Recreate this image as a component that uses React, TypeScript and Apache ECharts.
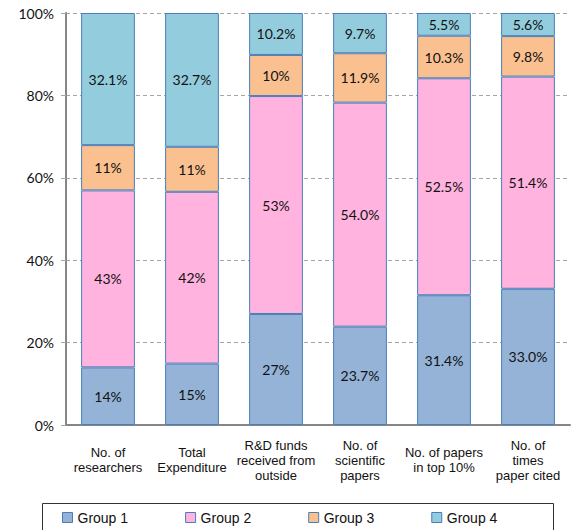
import React, { useEffect, useRef } from "react";
import * as echarts from "echarts";

const categories = [
  "No. of\nresearchers",
  "Total\nExpenditure",
  "R&D funds\nreceived from\noutside",
  "No. of\nscientific\npapers",
  "No. of papers\nin top 10%",
  "No. of\ntimes\npaper cited",
];
const seriesNames = ["Group 1", "Group 2", "Group 3", "Group 4"];
const group1 = [14, 15, 27, 23.7, 31.4, 33.0];
const group2 = [43, 42, 53, 54.0, 52.5, 51.4];
const group3 = [11, 11, 10, 11.9, 10.3, 9.8];
const group4 = [32.1, 32.7, 10.2, 9.7, 5.5, 5.6];
const group1Labels = ["14%", "15%", "27%", "23.7%", "31.4%", "33.0%"];
const group2Labels = ["43%", "42%", "53%", "54.0%", "52.5%", "51.4%"];
const group3Labels = ["11%", "11%", "10%", "11.9%", "10.3%", "9.8%"];
const group4Labels = ["32.1%", "32.7%", "10.2%", "9.7%", "5.5%", "5.6%"];
const yTicks = [0, 20, 40, 60, 80, 100];

const colors = ["#95B3D7", "#FFB3DE", "#FAC08F", "#93CDDD"];

export default function App() {
  const ref = useRef<HTMLDivElement>(null);
  useEffect(() => {
    if (!ref.current) return;
    const chart = echarts.init(ref.current, null, { renderer: "svg" });
    const groups = [group1, group2, group3, group4];
    const labels = [group1Labels, group2Labels, group3Labels, group4Labels];
    const totals = categories.map((_, i) => groups.reduce((s, g) => s + g[i], 0));
    chart.setOption({
      animation: false,
      backgroundColor: "#ffffff",
      grid: { left: 66, right: 9, top: 13, bottom: 105, containLabel: false },
      xAxis: {
        type: "category",
        data: categories,
        axisLine: { lineStyle: { color: "#868686", width: 2 } },
        axisTick: { show: false },
        axisLabel: {
          interval: 0,
          color: "#111111",
          fontFamily: "Liberation Sans, Arial, sans-serif",
          fontSize: 13,
          lineHeight: 15,
          verticalAlign: "middle",
          margin: 35,
        },
      },
      yAxis: {
        type: "value",
        min: yTicks[0],
        max: yTicks[yTicks.length - 1],
        interval: 20,
        axisLine: { show: true, lineStyle: { color: "#868686", width: 2 } },
        axisTick: { show: true, length: 5, lineStyle: { color: "#A6A6A6" } },
        axisLabel: {
          formatter: "{value}%",
          color: "#111111",
          fontFamily: "Lato, sans-serif",
          fontSize: 14,
          margin: 12,
        },
        splitLine: { lineStyle: { color: "#A6A6A6", type: [4, 3], width: 1 } },
      },
      legend: {
        data: seriesNames,
        left: 62,
        top: 510,
        padding: 0,
        itemGap: 57,
        itemWidth: 10,
        itemHeight: 10,
        icon: "rect",
        textStyle: {
          color: "#111111",
          fontFamily: "Liberation Sans, Arial, sans-serif",
          fontSize: 14,
          lineHeight: 15,
        },
        itemStyle: { borderColor: "#4A7EBB", borderWidth: 1 },
      },
      graphic: [
        {
          type: "rect",
          left: 40,
          top: 501,
          shape: { width: 511, height: 40 },
          style: { fill: "none", stroke: "#333333", lineWidth: 1 },
          silent: true,
        },
      ],
      series: groups.map((g, si) => ({
        name: seriesNames[si],
        type: "bar",
        stack: "total",
        barCategoryGap: "36%",
        data: g.map((v, i) => (v / totals[i]) * 100),
        itemStyle: { color: colors[si], borderColor: "#4A7EBB", borderWidth: 1 },
        label: {
          show: true,
          position: "inside",
          color: "#111111",
          fontFamily: "Lato, sans-serif",
          fontSize: 14,
          formatter: (p: any) => labels[si][p.dataIndex],
        },
      })),
    });
    return () => chart.dispose();
  }, []);
  return (
    <div
      ref={ref}
      style={{ position: "fixed", left: 0, top: 0, width: 579, height: 530 }}
    />
  );
}
